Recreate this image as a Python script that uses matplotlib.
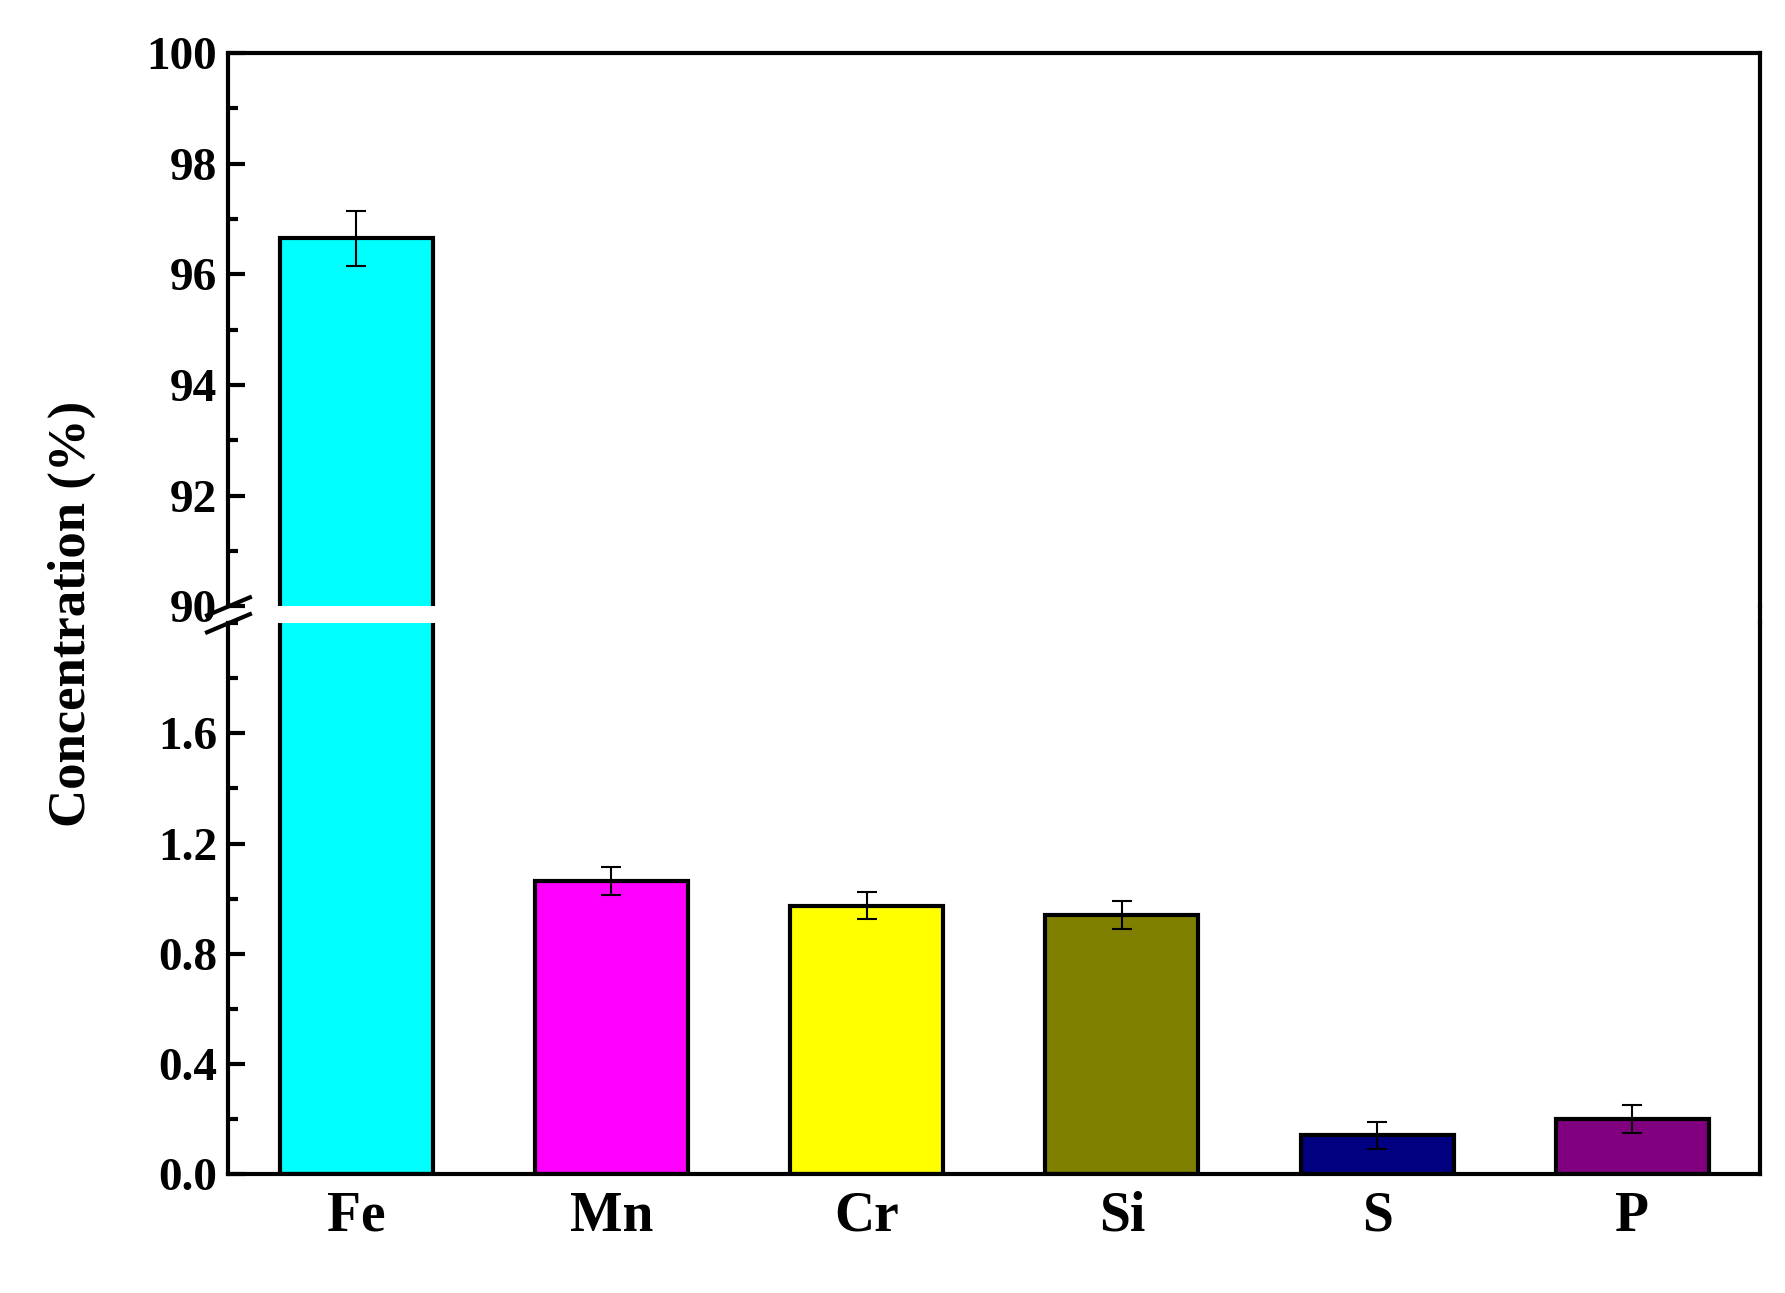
import matplotlib
matplotlib.use("Agg")
import matplotlib.pyplot as plt
from matplotlib.ticker import MultipleLocator
from matplotlib.lines import Line2D

elements = ["Fe", "Mn", "Cr", "Si", "S", "P"]
values = [96.65, 1.065, 0.975, 0.94, 0.14, 0.20]
errors = [0.5, 0.05, 0.05, 0.05, 0.05, 0.05]
colors = ["#00FFFF", "#FF00FF", "#FFFF00", "#808000", "#000080", "#800080"]

plt.rcParams['font.family'] = ['Liberation Serif', 'DejaVu Serif']
plt.rcParams['font.weight'] = 'bold'
fs = 34

fig = plt.figure(figsize=(17.85, 12.93), dpi=100)
L, R = 0.128, 0.986
ax_top = fig.add_axes([L, 0.531, R - L, 0.959 - 0.531])
ax_bot = fig.add_axes([L, 0.092, R - L, 0.518 - 0.092])

x = list(range(len(elements)))
for ax in (ax_top, ax_bot):
    ax.bar(x, values, width=0.6, color=colors, edgecolor='black', linewidth=3,
           yerr=errors, capsize=7, error_kw=dict(elinewidth=1.5, capthick=1.5, ecolor='black'))
    ax.set_xlim(-0.5, 5.5)
    for s in ax.spines.values():
        s.set_linewidth(3)
    ax.tick_params(axis='y', which='major', direction='in', length=12, width=3, labelsize=fs, pad=8)
    ax.tick_params(axis='y', which='minor', direction='in', length=7, width=3)
    ax.tick_params(axis='x', direction='in', length=0, labelsize=fs + 6, pad=12)

ax_top.set_ylim(90, 100)
ax_top.yaxis.set_major_locator(MultipleLocator(2))
ax_top.yaxis.set_minor_locator(MultipleLocator(1))
ax_top.spines['bottom'].set_visible(False)
ax_top.set_xticks([])

ax_bot.set_ylim(0, 2.0)
ax_bot.set_yticks([0.0, 0.4, 0.8, 1.2, 1.6])
ax_bot.set_yticklabels(["0.0", "0.4", "0.8", "1.2", "1.6"])
ax_bot.yaxis.set_minor_locator(MultipleLocator(0.2))
ax_bot.spines['top'].set_visible(False)
ax_bot.set_xticks(x)
ax_bot.set_xticklabels(elements, fontweight='bold')

for lab in ax_top.get_yticklabels() + ax_bot.get_yticklabels():
    lab.set_fontweight('bold')

# continuous right spine across gap
fig.add_artist(Line2D([R, R], [0.518, 0.531], color='black', lw=3, transform=fig.transFigure))
# break marks on left spine
for yc in (0.531, 0.518):
    fig.add_artist(Line2D([L - 0.012, L + 0.012], [yc - 0.007, yc + 0.007], color='black', lw=3,
                          transform=fig.transFigure, clip_on=False))

fig.text(0.04, 0.525, "Concentration (%)", rotation=90, va='center', ha='center',
         fontsize=fs + 4, fontweight='bold')

fig.savefig("out.png", dpi=100)
